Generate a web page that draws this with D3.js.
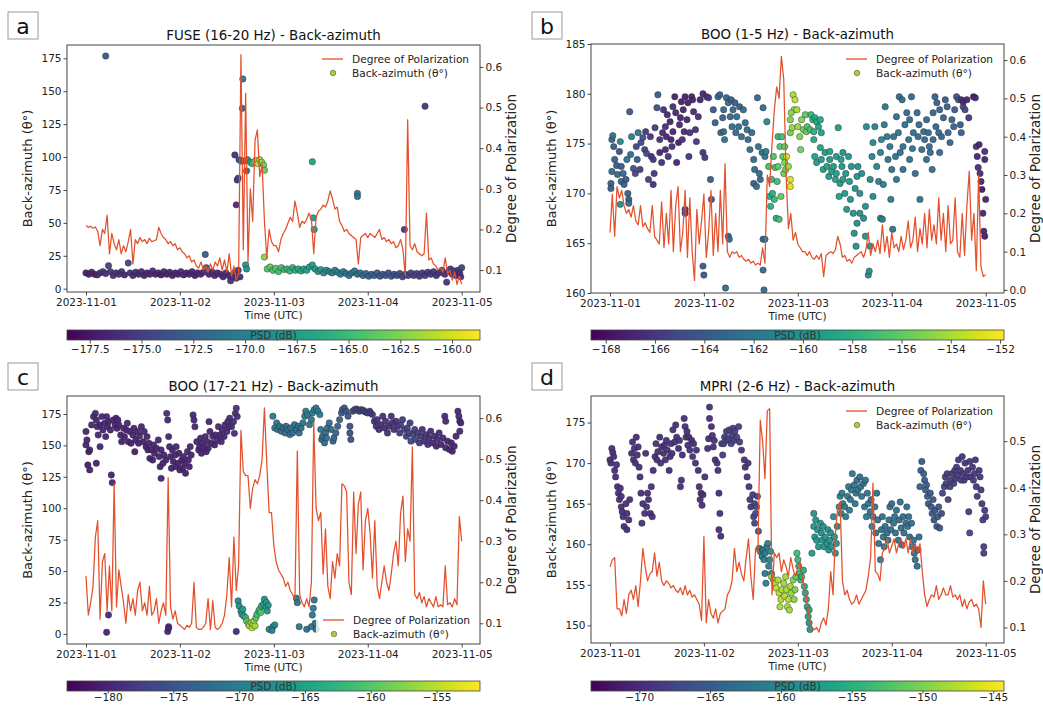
<!DOCTYPE html>
<html><head><meta charset="utf-8">
<script src="https://cdn.jsdelivr.net/npm/d3@7/dist/d3.min.js"></script>
<style>
body{margin:0;background:#fff;}
svg{display:block;font-family:"DejaVu Sans",sans-serif;}
</style></head><body>
<svg id="chart" width="1043" height="705"></svg>
<script>
// ---------------- DATA ----------------
const xTickLabels = ["2023-11-01","2023-11-02","2023-11-03","2023-11-04","2023-11-05"];
const dopStep = 0.025; // days between Degree-of-Polarization samples (starting 2023-11-01 00:00)

const titles = ["FUSE (16-20 Hz) - Back-azimuth","BOO (1-5 Hz) - Back-azimuth","BOO (17-21 Hz) - Back-azimuth","MPRI (2-6 Hz) - Back-azimuth"];
const letters = ["a","b","c","d"];

const bazTicksA = [0,25,50,75,100,125,150,175];
const bazTicksB = [160,165,170,175,180,185];
const bazTicksC = [0,25,50,75,100,125,150,175];
const bazTicksD = [150,155,160,165,170,175];
const dopTicksA = [0.1,0.2,0.3,0.4,0.5,0.6];
const dopTicksB = [0.0,0.1,0.2,0.3,0.4,0.5,0.6];
const dopTicksC = [0.1,0.2,0.3,0.4,0.5,0.6];
const dopTicksD = [0.1,0.2,0.3,0.4,0.5];
const psdTicksA = [-177.5,-175,-172.5,-170,-167.5,-165,-162.5,-160];
const psdTicksB = [-168,-166,-164,-162,-160,-158,-156,-154,-152];
const psdTicksC = [-180,-175,-170,-165,-160,-155];
const psdTicksD = [-170,-165,-160,-155,-150,-145];

// Degree of polarization (one value every dopStep days)
const dopA = [0.21,0.205,0.208,0.203,0.206,0.195,0.16,0.2,0.19,0.235,
0.14,0.19,0.165,0.15,0.175,0.14,0.16,0.145,0.17,0.2,
0.115,0.175,0.165,0.18,0.17,0.175,0.165,0.178,0.17,0.172,
0.175,0.205,0.19,0.18,0.175,0.165,0.17,0.16,0.165,0.15,
0.155,0.145,0.14,0.13,0.135,0.12,0.125,0.11,0.105,0.12,
0.1,0.11,0.095,0.115,0.1,0.12,0.11,0.13,0.1,0.125,
0.095,0.14,0.085,0.11,0.075,0.09,0.63,0.15,0.535,0.12,
0.3,0.22,0.42,0.445,0.33,0.36,0.22,0.13,0.2,0.17,
0.16,0.16,0.145,0.175,0.19,0.2,0.215,0.23,0.22,0.27,
0.24,0.205,0.22,0.215,0.225,0.24,0.225,0.14,0.23,0.245,
0.25,0.26,0.255,0.27,0.295,0.275,0.25,0.255,0.22,0.21,
0.195,0.2,0.19,0.185,0.18,0.175,0.115,0.18,0.185,0.19,
0.18,0.19,0.185,0.18,0.19,0.2,0.175,0.18,0.17,0.175,
0.165,0.17,0.155,0.16,0.175,0.15,0.085,0.47,0.16,0.15,
0.165,0.145,0.14,0.135,0.14,0.24,0.125,0.13,0.115,0.11,
0.1,0.105,0.095,0.13,0.09,0.1,0.075,0.095,0.065,0.085,0.065];

const dopB = [0.15,0.25,0.14,0.27,0.24,0.26,0.22,0.2,0.21,0.19,
0.22,0.18,0.17,0.22,0.165,0.175,0.16,0.15,0.22,0.14,
0.13,0.12,0.23,0.11,0.2,0.12,0.26,0.1,0.22,0.27,
0.1,0.15,0.26,0.085,0.24,0.1,0.025,0.21,0.12,0.18,
0.25,0.085,0.15,0.26,0.09,0.2,0.1,0.26,0.12,0.33,
0.1,0.085,0.1,0.095,0.1,0.085,0.09,0.08,0.075,0.08,
0.07,0.075,0.065,0.07,0.065,0.11,0.07,0.3,0.27,0.38,
0.47,0.53,0.5,0.61,0.55,0.3,0.16,0.2,0.13,0.15,
0.12,0.11,0.1,0.1,0.09,0.1,0.085,0.08,0.09,0.08,
0.095,0.035,0.09,0.095,0.1,0.095,0.105,0.14,0.12,0.085,
0.09,0.075,0.08,0.07,0.085,0.09,0.095,0.1,0.085,0.105,
0.15,0.09,0.12,0.1,0.13,0.095,0.17,0.1,0.14,0.085,
0.15,0.11,0.12,0.1,0.14,0.105,0.13,0.18,0.11,0.13,
0.19,0.1,0.16,0.12,0.2,0.11,0.21,0.13,0.17,0.12,
0.24,0.13,0.2,0.1,0.22,0.12,0.13,0.24,0.1,0.085,
0.2,0.09,0.22,0.31,0.13,0.2,0.05,0.3,0.06,0.035,0.04];

const dopC = [0.215,0.12,0.15,0.19,0.31,0.35,0.11,0.25,0.27,0.13,
0.24,0.13,0.44,0.14,0.23,0.19,0.15,0.1,0.17,0.13,
0.16,0.12,0.18,0.2,0.13,0.15,0.12,0.19,0.12,0.13,
0.16,0.1,0.13,0.15,0.12,0.455,0.14,0.11,0.13,0.1,
0.095,0.09,0.085,0.095,0.09,0.1,0.2,0.09,0.085,0.085,
0.09,0.1,0.16,0.085,0.155,0.09,0.085,0.09,0.1,0.12,
0.17,0.26,0.14,0.31,0.18,0.24,0.57,0.47,0.46,0.46,
0.38,0.43,0.45,0.44,0.46,0.5,0.625,0.49,0.37,0.37,
0.29,0.25,0.23,0.22,0.21,0.19,0.2,0.18,0.17,0.16,
0.52,0.17,0.15,0.14,0.16,0.14,0.2,0.59,0.38,0.35,
0.37,0.22,0.33,0.19,0.16,0.25,0.21,0.27,0.24,0.44,
0.435,0.42,0.2,0.17,0.42,0.27,0.39,0.42,0.23,0.35,
0.38,0.32,0.21,0.35,0.19,0.16,0.2,0.24,0.2,0.18,
0.22,0.27,0.3,0.24,0.37,0.41,0.25,0.33,0.3,0.53,
0.17,0.16,0.175,0.15,0.165,0.14,0.16,0.15,0.14,0.165,
0.14,0.145,0.14,0.24,0.145,0.15,0.14,0.16,0.145,0.36,0.3];

const dopD = [0.23,0.245,0.25,0.14,0.14,0.125,0.16,0.13,0.17,0.18,
0.16,0.19,0.145,0.2,0.27,0.23,0.2,0.215,0.22,0.26,
0.21,0.24,0.2,0.19,0.2,0.195,0.185,0.19,0.18,0.175,
0.185,0.17,0.19,0.17,0.18,0.165,0.17,0.16,0.15,0.115,
0.295,0.11,0.16,0.13,0.12,0.14,0.11,0.13,0.135,0.14,
0.17,0.18,0.2,0.27,0.22,0.24,0.215,0.2,0.25,0.29,
0.21,0.16,0.27,0.26,0.545,0.5,0.42,0.565,0.57,0.17,
0.26,0.25,0.26,0.22,0.245,0.23,0.21,0.25,0.225,0.21,
0.23,0.24,0.2,0.19,0.15,0.12,0.1,0.095,0.1,0.09,
0.11,0.12,0.105,0.14,0.22,0.17,0.3,0.36,0.37,0.2,
0.17,0.18,0.16,0.15,0.155,0.17,0.15,0.16,0.17,0.18,
0.21,0.25,0.41,0.22,0.215,0.2,0.26,0.27,0.29,0.26,
0.275,0.29,0.26,0.28,0.29,0.27,0.29,0.26,0.29,0.26,
0.28,0.26,0.28,0.22,0.17,0.145,0.16,0.17,0.165,0.19,
0.16,0.17,0.185,0.17,0.17,0.19,0.165,0.17,0.16,0.17,
0.145,0.16,0.14,0.155,0.16,0.145,0.15,0.14,0.1,0.2,0.15];

// Back-azimuth points: [time (days after 2023-11-01), back-azimuth (deg), PSD (dB)]
const bazA = [[0.00,12,-177.2],[0.03,11,-177],[0.06,12.5,-176.8],[0.09,11,-177],[0.12,10.5,-176.5],[0.15,12,-176],[0.18,13,-175.5],[0.21,11.5,-175.8],[0.24,17.5,-174.8],[0.26,13,-175.5],[0.29,10,-176],[0.32,12,-175.5],[0.35,11,-176],[0.38,13,-176.2],[0.41,10.5,-176.5],[0.45,19.5,-174.5],[0.47,12,-176],[0.50,10,-176.4],[0.53,12.5,-176.2],[0.56,11,-176.6],[0.59,13,-176.3],[0.62,10,-176.8],[0.65,12,-176.5],[0.68,11,-176.7],[0.71,13.5,-176.2],[0.74,11,-176.8],[0.77,12,-176.5],[0.80,10.5,-176.9],[0.83,13,-176.4],[0.86,11,-176.8],[0.89,12.5,-176.5],[0.92,10,-177],[0.95,12,-176.6],[0.98,11,-176.8],[1.01,13,-176.3],[1.04,10.5,-176.7],[1.07,12,-176.4],[1.10,11,-176.8],[1.13,13,-176.5],[1.16,10,-177],[1.19,12,-176.6],[1.22,11,-176.4],[1.25,12.5,-176.2],[1.27,26,-173],[1.28,16,-173.5],[1.31,11,-176.5],[1.34,13,-176.2],[1.37,10,-176.6],[1.40,12,-176.4],[1.43,11,-176.3],[1.46,9,-176.5],[1.49,12,-176.2],[1.52,10,-176.4],[1.54,6,-176],[1.56,9,-175.8],[1.58,12,-175.5],[1.60,8,-176],[1.62,14,-175.5],[1.64,9,-176],
[0.21,176.7,-173.2],[1.585,101.6,-176],[1.60,63.7,-176.3],[1.61,82.6,-175.5],[1.62,84,-175],[1.63,98,-174],[1.65,97,-172],[1.67,159.3,-171],[1.665,137,-172],[1.71,89.5,-172.5],[1.70,18,-168],[1.71,15,-168.5],[1.68,97,-170],[1.72,98,-169],[1.75,96,-167],[1.77,95,-165],[1.79,96.5,-163],[1.81,97.5,-162],[1.83,95,-161],[1.85,98,-161.5],[1.87,96,-162],[1.89,94,-163],[1.90,90,-163.5],[1.90,24,-162.5],[2.41,96.4,-167],[2.42,53.8,-167.5],[2.43,45,-167],[2.89,72.4,-171],[2.89,70,-171.3],[3.39,45,-175.5],[3.61,138.6,-175.5],
[1.93,15,-164],[1.96,16.5,-163.5],[1.99,14,-164.5],[2.02,15.5,-164],[2.05,13,-165],[2.08,16,-164.5],[2.11,14.5,-165],[2.14,15,-165.5],[2.17,13.5,-165.5],[2.20,16,-166],[2.23,14,-166],[2.26,15,-166.3],[2.29,13.5,-166.5],[2.32,15,-166.8],[2.35,14,-167],[2.38,16.5,-167],[2.41,18,-167.5],[2.44,15,-168],[2.47,13,-168.3],[2.50,14.5,-168.5],[2.53,12,-169],[2.56,14,-169.2],[2.59,13,-169.5],[2.62,12,-169.8],[2.65,14,-170],[2.68,12.5,-170.2],[2.71,11,-170.5],[2.74,13,-170.6],[2.77,11.5,-171],[2.80,10,-171.2],[2.83,12,-171.3],[2.86,13.5,-171],[2.89,11,-171.5],[2.92,12,-171.6],[2.95,10,-171.8],[2.98,11.5,-172],[3.01,9.5,-172.2],[3.04,11,-172.5],[3.07,10,-172.6],[3.10,12,-172.8],[3.13,9.5,-173],[3.16,11,-173.2],[3.19,10,-173.4],[3.22,12,-173.5],[3.25,9.5,-173.6],[3.28,11,-173.8],[3.31,10,-174],[3.34,11.5,-174.2],[3.37,9,-174.3],[3.40,11,-174.5],[3.43,10,-174.6],[3.46,12,-174.7],[3.49,10,-174.8],[3.52,11.5,-175],[3.55,9.5,-175.2],[3.58,12,-175.3],[3.61,10,-175.4],[3.64,12.5,-175.5],[3.67,11,-175.6],[3.70,13,-175.5],[3.73,10,-175.8],[3.76,12,-175.6],[3.79,14,-175],[3.82,11,-176],[3.84,5,-175.5],[3.86,13,-176.2],[3.88,15,-175.4],[3.90,11,-176],[3.92,13.5,-175],[3.94,10,-176.3],[3.96,14,-175.5],[3.98,12,-176],[4.0,16,-174.8],[3.99,9,-176.2]];

const bazB = [[0.01,171.0,-163.5],[0.02,172.2,-163],[0.01,170.5,-164],[0.02,175.4,-163.5],[0.03,175.8,-162.5],[0.04,174.7,-164],[0.05,173.4,-163.5],[0.07,172.8,-164],[0.08,171.9,-163],[0.1,174.2,-164.5],[0.11,175.2,-161],[0.11,168.9,-160.5],[0.12,171.2,-163.5],[0.12,172.7,-164],[0.14,172.0,-163],[0.15,170.9,-163.5],[0.17,171.4,-164],[0.18,173.4,-162],[0.19,170.0,-163.5],[0.2,169.4,-164],[0.2,169.0,-163],[0.21,178.2,-164],[0.22,173.9,-162.5],[0.23,175.7,-161.5],[0.25,172.5,-164.5],[0.27,172.0,-165],[0.28,174.7,-165],[0.29,173.4,-164],[0.3,176.1,-162],[0.32,172.4,-165.5],[0.33,175.1,-165],[0.35,175.6,-164.5],[0.37,174.4,-165.5],[0.38,176.2,-166],[0.39,174.0,-165],[0.41,171.4,-165.5],[0.43,175.7,-166],
[0.44,173.7,-166.5],[0.46,173.4,-166],[0.46,170.9,-166.5],[0.47,172.0,-166],[0.48,176.6,-165.5],[0.5,178.6,-164.5],[0.51,179.9,-164],[0.53,175.4,-166.5],[0.53,174.1,-167],[0.55,173.1,-166.5],[0.56,176.1,-166.8],[0.57,178.4,-166.5],[0.59,174.4,-167],[0.59,176.7,-166.5],[0.6,175.7,-167],[0.61,177.9,-166.8],[0.62,173.7,-166],[0.64,177.2,-167],[0.65,175.4,-167.2],[0.66,174.7,-166.5],[0.67,176.2,-167],[0.67,178.7,-166.5],[0.69,179.7,-167],[0.7,178.1,-166.8],[0.71,173.1,-167],[0.73,175.1,-167.2],[0.74,176.9,-166.8],[0.75,177.6,-167],[0.76,179.2,-167.2],[0.77,175.4,-166.5],[0.78,178.4,-167],[0.79,176.2,-166.8],[0.8,179.7,-167.3],[0.8,168.4,-166.5],[0.8,168.0,-166],[0.82,177.4,-167],[0.83,179.1,-167.2],[0.84,173.7,-166],[0.85,176.1,-166.5],[0.87,179.7,-167],[0.88,179.4,-167.2],[0.89,178.2,-166.8],[0.91,176.4,-166.5],[0.92,175.2,-166],[0.94,177.7,-166.5],[0.96,179.4,-167],[0.99,180.0,-167],[0.99,174.1,-166],[0.99,162.7,-164],[1.0,161.8,-164],
[1.01,173.6,-166],[1.03,179.7,-166.5],[1.05,179.6,-166],[1.07,171.4,-164],[1.08,169.4,-163.5],[1.1,178.4,-164],[1.12,177.1,-163.5],[1.15,179.7,-163],[1.17,179.9,-163.5],[1.18,176.1,-163],[1.2,177.6,-163.5],[1.21,178.4,-163],[1.21,176.2,-163],[1.22,175.4,-162.5],[1.23,160.5,-163],[1.24,179.6,-163.5],[1.26,179.1,-163],[1.26,165.7,-163.5],[1.27,165.4,-163],[1.28,177.7,-163],[1.29,179.4,-163.5],[1.3,176.7,-162.5],[1.31,178.4,-163],[1.33,179.1,-163.5],[1.34,176.1,-163],[1.35,177.7,-162.8],[1.37,176.7,-163],[1.38,178.7,-163.5],[1.4,175.7,-163],[1.42,178.4,-162.5],[1.44,177.1,-163],[1.46,176.4,-162.8],[1.47,175.4,-163],[1.49,174.4,-162.5],[1.51,176.1,-163],[1.53,173.4,-163],[1.53,171.0,-163.5],[1.54,172.4,-162.8],[1.56,170.7,-163],[1.57,179.6,-163],[1.58,174.7,-162.5],[1.59,172.0,-163],[1.6,171.4,-163.2],[1.62,174.1,-162.5],[1.63,178.6,-162.8],[1.63,165.4,-162.5],[1.63,162.3,-163],[1.64,160.3,-163],[1.65,173.7,-162],[1.65,165.4,-162.5],[1.66,174.2,-161.5],[1.67,177.2,-161],
[1.69,172.7,-157],[1.7,169.7,-158.5],[1.71,168.7,-158],[1.72,171.4,-157.5],[1.73,170.0,-158],[1.74,173.7,-156.5],[1.75,169.4,-157.5],[1.76,172.6,-157],[1.77,167.5,-158],[1.78,171.2,-157],[1.79,172.7,-156],[1.79,175.7,-157.5],[1.8,167.4,-157],[1.81,174.7,-156.5],[1.82,169.7,-156],[1.83,175.7,-157],[1.84,173.7,-156],[1.85,172.0,-155.5],[1.86,174.7,-156],[1.86,173.1,-155],[1.87,172.4,-155.5],[1.88,173.7,-153],[1.9,172.7,-154.5],[1.92,171.4,-152.8],[1.92,170.7,-152.5],
[1.95,179.9,-154],[1.97,179.4,-153.5],[1.96,178.4,-154.5],[1.93,178.1,-154.8],[1.92,177.4,-155],[1.92,176.1,-155.5],[1.94,176.6,-154.5],[1.99,178.4,-154],[2.0,176.7,-154.5],[2.02,175.7,-155],[2.03,174.4,-155.5],[2.04,177.4,-155],[2.06,176.4,-155.5],[2.08,177.9,-156],[2.09,176.2,-156],[2.1,176.7,-156.5],[2.13,176.4,-157],[2.14,177.9,-157.5],[2.16,177.4,-158],[2.17,176.2,-158],[2.18,177.6,-158.5],[2.2,177.2,-158.5],[2.22,176.7,-159],[2.24,177.4,-158.5],[2.25,176.1,-159],
[2.17,175.4,-158.5],[2.18,173.7,-159],[2.2,173.1,-159.5],[2.24,174.6,-159],[2.25,173.4,-159.5],[2.27,172.4,-159],[2.29,174.1,-159.5],[2.31,172.7,-159],[2.33,171.7,-159.5],[2.34,174.2,-159],[2.34,173.4,-159.5],[2.36,172.2,-159],[2.38,172.7,-159.5],[2.4,171.4,-159],[2.41,173.7,-159.5],[2.41,172.0,-159],[2.43,176.6,-159.5],[2.44,169.7,-159],[2.45,171.0,-159.5],[2.46,173.4,-159.3],[2.47,172.7,-159.8],[2.48,171.4,-159.5],[2.48,174.1,-160],[2.5,170.0,-159.5],[2.51,172.0,-159.8],[2.52,168.4,-159.5],[2.54,173.7,-160],[2.55,171.2,-159.8],[2.56,169.4,-160],[2.57,172.7,-160.2],[2.59,168.0,-159.8],[2.6,166.0,-160],[2.61,170.5,-160.2],[2.62,164.7,-160],[2.63,167.0,-160.3],[2.63,171.7,-160],[2.64,172.7,-160.5],[2.66,168.0,-160.3],[2.66,170.0,-160.5],[2.68,172.0,-160.3],[2.7,167.5,-160.5],[2.72,168.7,-160.5],[2.72,165.7,-160.2],[2.73,176.7,-160.8],[2.75,161.8,-160.5],[2.76,162.2,-160.3],[2.77,171.4,-160.8],[2.77,164.7,-160.5],[2.79,173.7,-161],[2.8,175.1,-161],[2.8,169.7,-160.8],[2.82,176.7,-161.2],[2.84,172.7,-161],[2.86,171.2,-161.2],[2.88,167.5,-161],[2.88,174.1,-161.5],[2.89,175.4,-161.3],[2.9,167.4,-161.5],[2.91,170.9,-161.5],[2.92,176.9,-161.8],
[2.93,178.7,-162],[2.95,175.7,-161.8],[2.96,173.4,-162],[2.98,174.7,-162],[2.99,169.4,-161.8],[3.0,172.4,-162.2],[3.01,166.4,-162],[3.02,175.7,-162.3],[3.04,173.7,-162.2],[3.05,171.4,-162],[3.05,177.7,-162.5],[3.07,176.1,-162.3],[3.08,179.7,-162.8],[3.09,174.1,-162.3],[3.11,179.4,-162.8],[3.12,174.7,-162.5],[3.12,172.4,-162.3],[3.14,176.9,-162.6],[3.16,178.1,-162.8],[3.18,175.4,-162.5],[3.19,173.4,-162.4],[3.19,177.4,-162.8],[3.21,179.7,-163],[3.22,174.5,-162.6],[3.23,176.1,-162.8],[3.25,172.0,-162.5],[3.27,178.1,-163],[3.28,175.7,-162.8],[3.29,176.9,-163],[3.3,169.4,-162.5],[3.32,174.4,-162.8],[3.34,176.2,-163],[3.35,175.4,-163],[3.37,173.4,-162.8],[3.37,177.4,-163.2],[3.39,176.1,-163],[3.4,174.7,-163],[3.41,174.1,-162.8],[3.43,172.4,-162.8],[3.44,175.4,-163],[3.44,178.1,-163.3],[3.46,179.7,-163.5],[3.47,176.7,-163.2],[3.48,179.1,-163.5],[3.5,176.1,-163.2],[3.51,174.1,-163],[3.51,178.4,-163.4],[3.53,175.7,-163.2],[3.55,177.6,-163.4],[3.57,179.4,-163.8],[3.59,178.7,-163.6],[3.6,176.1,-163.3],[3.62,175.1,-163.2],[3.64,177.4,-163.5],[3.66,176.7,-163.5],[3.67,178.4,-163.8],[3.69,179.7,-164],[3.71,179.4,-164],[3.73,176.9,-163.6],[3.74,176.1,-163.8],[3.76,178.7,-164.5],[3.78,178.4,-165],
[3.74,179.4,-166.5],[3.76,179.2,-167],[3.8,179.4,-167],[3.82,177.6,-166],[3.87,179.7,-167.5],[3.89,179.6,-167],[3.9,174.7,-166.5],[3.91,173.7,-167],[3.92,172.6,-166.5],[3.93,174.9,-167],[3.94,172.0,-166.8],[3.95,171.2,-167],[3.96,170.4,-167.5],[3.97,168.0,-166.8],[3.98,166.2,-167],[3.99,165.7,-167.2],[3.99,173.4,-167],[4.0,169.4,-167],[3.99,174.2,-166.5]];

const bazC = [[0.0,161,-180],[0.0,150.4,-180.3],[0.01,154.3,-180],[0.03,145,-180.5],[0.04,146.4,-180.2],[0.02,134.4,-180.4],[0.04,130.5,-180.2],[0.06,166.3,-179.8],[0.08,172.9,-180],[0.1,175.5,-179.7],[0.11,170.2,-180.1],[0.12,164.9,-180],[0.11,135.8,-180.3],[0.13,158.3,-179.9],[0.15,166.3,-180.2],[0.15,149,-180],[0.17,172.9,-179.8],[0.18,162.3,-180.1],[0.2,167.6,-180],[0.21,157,-180.2],[0.22,172.9,-179.9],[0.23,164.9,-180],[0.24,168.9,-180.3],[0.26,162.3,-180],[0.27,126.5,-180.2],[0.28,120.4,-180],[0.29,170.2,-179.8],[0.31,166.3,-180.1],[0.32,171.6,-180],[0.33,163.6,-180.2],[0.34,170.2,-179.9],[0.35,166.3,-180],[0.37,158.3,-180.2],[0.38,153,-180.4],[0.4,163.6,-180],[0.41,157,-180.2],[0.43,162.3,-179.9],[0.44,167.6,-180],[0.45,153,-180.3],[0.47,161,-180],[0.48,151.7,-180.2],[0.5,158.3,-180],[0.51,163.6,-179.8],[0.52,145,-180.4],[0.53,154.3,-180.1],[0.55,161,-180],[0.56,151.7,-180.2],[0.57,157.5,-180],[0.59,164.9,-179.8],[0.61,153,-180.1],[0.62,161,-180],[0.64,149,-180.3],[0.65,157,-180],[0.66,146.4,-180.2],[0.67,151.7,-180],[0.68,139.7,-180.4],[0.7,146.4,-180.1],[0.71,138.4,-180.3],[0.72,150.4,-180],[0.73,143.7,-180.2],[0.75,147.7,-180],[0.77,154.3,-179.8],[0.78,141.1,-180.2],[0.79,133.1,-180.4],[0.8,123.8,-180.3],[0.8,146.4,-180],[0.82,135.8,-180.2],[0.83,142.4,-180],[0.85,138.4,-180.1],[0.86,175.5,-179.6],[0.87,170.2,-179.8],[0.88,157,-180],[0.89,149,-180.1],[0.9,141.1,-180.2],[0.91,131.8,-180.4],[0.92,146.4,-180],[0.93,137.1,-180.2],[0.95,142.4,-180],[0.96,133.1,-180.3],[0.96,149,-180],[0.98,135.8,-180.2],[0.99,143.7,-180],[1.0,130.5,-180.3],[1.02,138.4,-180.1],[1.03,131.8,-180.3],[1.04,141.1,-180],[1.05,135.8,-180.2],[1.06,127.8,-180.4],[1.08,145,-180],[1.09,138.4,-180.2],[1.1,133.1,-180.3],[1.11,149,-180],[1.12,142.4,-180.1],[1.14,174.2,-179.6],[1.15,170.2,-179.8],[1.16,164.9,-179.9],[1.18,153,-180],[1.2,146.4,-180.2],[1.21,149,-180],[1.22,155.7,-179.9],[1.23,143.7,-180.2],[1.24,151.7,-180],[1.26,147.7,-180.1],[1.27,157,-179.8],[1.28,145,-180.2],[1.29,153,-180],[1.3,147.7,-180],[1.31,168.9,-179.7],[1.32,161,-179.8],[1.34,151.7,-180],[1.35,157,-179.8],[1.37,150.4,-180],[1.38,158.3,-179.7],[1.4,154.3,-179.8],[1.41,164.9,-179.6],[1.43,158.3,-179.7],[1.44,153,-179.9],[1.45,162.3,-179.6],[1.47,157,-179.7],[1.48,166.3,-179.5],[1.5,161,-179.6],[1.51,168.9,-179.4],[1.52,164.9,-179.5],[1.53,171.6,-179.3],[1.55,164.9,-179.4],[1.57,168.9,-179.3],[1.58,159.6,-179.4],[1.59,175.5,-179],[1.6,179.5,-178.8],[1.61,172.9,-179],
[0.22,1.3,-180],[0.24,15.1,-179.5],[0.87,1.9,-179.8],[0.88,5.8,-179.6],[0.88,4.5,-179.8],[1.6,1.9,-179.5],
[1.62,26.3,-168.5],[1.63,22.3,-168],[1.65,18.3,-167],[1.66,15.6,-166],[1.68,14.3,-164.5],[1.67,19.6,-165.5],[1.7,13,-162.5],[1.71,10.3,-160],[1.73,7.7,-157],[1.74,6.4,-155.5],[1.76,9,-156],[1.77,5,-154.5],[1.78,7.7,-155],[1.79,10.3,-157],[1.8,6.4,-156],[1.81,13,-159.5],[1.82,15.6,-161],[1.84,18.3,-162],[1.85,19.6,-161.5],[1.86,17,-160.5],[1.87,22.3,-163.5],[1.89,23.6,-166],[1.9,27.6,-167],[1.92,25,-165.5],[1.92,21,-164],[1.94,22.9,-167],[1.93,18.3,-166],
[1.95,3.7,-168.5],[1.99,5.8,-169],[2.01,7.2,-168.8],[1.98,2.7,-169.5],[2.24,28.4,-171],[2.25,24.9,-171.5],[2.27,5.8,-171],[2.35,3.7,-172],[2.4,5.8,-171.5],[2.41,15.1,-170.5],[2.42,20.4,-170],[2.43,27,-170.5],[2.44,8.5,-171],[2.45,3.7,-171.5],
[1.99,173.2,-170.5],[2.03,167.9,-171],[2.01,163.9,-171.5],[2.04,162.6,-171.5],[2.06,165.2,-171.8],[2.08,161.3,-172],[2.1,163.9,-171.5],[2.12,159.9,-172],[2.13,165.2,-171.5],[2.15,162.6,-172],[2.17,158.6,-172.3],[2.18,163.9,-171.8],[2.2,159.9,-172],[2.22,166.5,-171.5],[2.24,162.6,-172],[2.26,165.2,-171.5],[2.27,159.9,-172],[2.29,163.9,-171.5],[2.31,167.9,-171],[2.33,173.2,-170.5],[2.34,177.2,-170],[2.36,174.5,-170.3],[2.38,166.5,-171],[2.4,170.5,-170.5],[2.41,175.8,-170],[2.43,178.5,-169.8],[2.45,179.8,-169.8],[2.47,177.2,-170],[2.49,174.5,-170.5],[2.5,162.6,-171.5],[2.51,154.7,-172],[2.52,157.3,-172],[2.54,152,-172.5],[2.55,159.9,-172],[2.56,155.9,-172.3],[2.57,163.9,-172],[2.59,167.9,-172],[2.61,162.6,-172.5],[2.63,153.4,-173],[2.64,155.9,-173],[2.66,159.9,-173],[2.68,165.2,-173.5],[2.7,170.5,-174],[2.72,175.8,-174],[2.73,178.5,-174.5],[2.75,179.8,-174.5],[2.77,177.2,-175],[2.79,173.2,-175],[2.81,165.2,-175.5],[2.81,159.9,-175.5],[2.82,154.7,-175.5],[2.84,177.2,-175.5],[2.86,178.5,-176],[2.88,179,-176],[2.89,178,-176.3],[2.91,177.2,-176.5],[2.93,178.5,-176.5],[2.95,178,-176.8],[2.96,177.2,-177],[2.98,176.4,-177.2],[3.0,175.8,-177.5],[3.02,177.2,-177.5],[3.03,175.8,-177.8],[3.05,174.5,-178],
[3.07,169.2,-178.8],[3.09,165.2,-179],[3.1,170.5,-178.8],[3.12,162.6,-179.2],[3.14,166.5,-179],[3.16,173.2,-178.8],[3.18,163.9,-179.2],[3.19,169.2,-179],[3.21,159.9,-179.3],[3.23,165.2,-179],[3.25,173.2,-178.7],[3.26,167.9,-179],[3.28,162.6,-179.2],[3.3,169.2,-178.9],[3.32,165.2,-179],[3.34,159.9,-178],[3.35,166.5,-177.5],[3.37,170.5,-177.8],[3.39,162.6,-177],[3.41,157.3,-177.5],[3.42,163.9,-177.2],[3.44,159.9,-177],[3.45,167.9,-178],[3.46,153.4,-176.8],[3.48,158.6,-177],[3.5,162.6,-177.5],[3.51,154.7,-177],[3.53,159.9,-177.8],[3.55,152,-178],[3.57,157.3,-178.5],[3.58,162.6,-179],[3.6,153.4,-178.8],[3.62,158.6,-179],[3.64,150.7,-179.2],[3.65,155.9,-179.3],[3.67,161.3,-179.5],[3.69,152,-179.5],[3.71,157.3,-179.6],[3.73,149.4,-179.8],[3.74,154.7,-179.6],[3.76,159.9,-179.5],[3.78,150.7,-179.8],[3.8,155.9,-179.7],[3.82,173.2,-179.5],[3.83,169.2,-179.6],[3.83,148.1,-180],[3.85,153.4,-179.8],[3.87,146.7,-180],[3.89,152,-179.9],[3.9,145.4,-180.1],[3.92,149.4,-180],[3.94,157.3,-179.8],[3.96,177.2,-179.5],[3.97,173.2,-179.6],[3.98,169.2,-179.7],[3.98,161.3,-179.9],[3.99,167.9,-179.8]];

const bazD = [[0,170.4,-169.5],[0.01,170,-169.8],[0.02,171.8,-169.5],[0.03,171.3,-169.7],[0.04,170.8,-169.5],[0.05,169.1,-169.8],[0.06,168.3,-169.6],[0.07,169.8,-169.5],[0.08,167.1,-169.8],[0.09,166.3,-169.6],[0.1,165.5,-169.8],[0.11,166.9,-169.5],[0.12,164.6,-169.7],[0.12,165.9,-169.5],[0.13,164,-169.8],[0.14,163.4,-169.6],[0.15,162.2,-169.8],[0.17,165,-169.5],[0.18,163.8,-169.7],[0.18,161.8,-169.8],[0.2,163,-169.6],[0.21,165.5,-169.5],[0.23,171.2,-169.8],[0.24,172.6,-169.6],[0.25,170.4,-169.8],[0.26,171.8,-169.5],[0.27,170,-169.7],[0.28,173.2,-169.6],[0.29,171,-169.8],[0.3,172,-169.5],[0.31,169.5,-169.7],[0.32,168.3,-169.6],[0.33,166.3,-169.8],[0.34,162.6,-169.5],[0.35,165,-169.7],[0.37,163.8,-169.6],[0.38,171.2,-169.8],[0.39,164.6,-169.5],[0.4,166.3,-169.7],[0.41,165.5,-169.6],[0.43,163.8,-169.8],[0.44,167.1,-169.5],[0.45,163.4,-169.7],[0.46,169.1,-169.6],[0.48,170.8,-169.8],[0.49,172.4,-169.5],[0.5,170.4,-169.7],[0.51,171.4,-169.6],[0.53,173.2,-169.8],[0.54,170,-169.5],[0.55,172,-169.7],[0.57,171.2,-169.6],[0.58,172.2,-169.8],[0.59,170.4,-169.5],[0.6,172.8,-169.7],[0.61,171.6,-169.6],[0.63,169.1,-169.8],[0.64,170.8,-169.5],[0.65,172.4,-169.7],[0.66,171.2,-169.6],[0.67,174.1,-169.8],[0.69,172.6,-169.5],[0.7,174.7,-169.7],[0.71,173.2,-169.6],[0.73,171.8,-169.8],[0.74,172.8,-169.5],[0.75,167.1,-169.7],[0.76,167.9,-169.6],[0.77,171,-169.8],[0.79,175.5,-169.5],[0.8,174.5,-169.7],[0.81,173.2,-169.6],[0.82,173.9,-169.8],[0.83,172.2,-169.5],[0.84,173.2,-169.7],[0.85,171.6,-169.6],[0.87,172.8,-169.8],[0.88,170.8,-169.5],[0.89,172.4,-169.7],[0.91,170,-169.6],[0.92,171.6,-169.8],[0.94,169.1,-169.5],[0.95,167.1,-169.7],[0.96,165.5,-169.6],[0.97,166.3,-169.8],[0.98,164.8,-169.5],[0.99,166.1,-169.7],[1.01,168.3,-169.6],[1.04,171.8,-169.8],[1.05,173,-169.5],[1.06,175.5,-169.7],[1.06,176.9,-169.6],[1.08,174.5,-169.8],[1.09,173.4,-169.5],[1.1,172,-169.7],[1.11,172.8,-169.6],[1.12,170.4,-169.8],[1.14,170,-169.5],[1.15,169.1,-169.7],[1.16,166.3,-169.6],[1.16,161.8,-169.8],[1.17,163.8,-169.5],[1.18,161,-169.7],[1.19,172.4,-168.5],[1.2,171,-168.3],[1.21,172.4,-168],[1.22,173.2,-168.2],[1.24,172.8,-167.8],[1.24,173.9,-168],[1.26,173,-167.8],[1.27,174.1,-168],[1.29,172.4,-167.7],[1.3,173.4,-168],[1.31,174.3,-167.8],[1.32,172.8,-168],[1.33,173.9,-167.7],[1.35,173.2,-168],[1.37,174.5,-167.8],[1.38,172.6,-168.5],[1.4,171.6,-169],[1.43,170.4,-169.3],[1.44,169.5,-169.5],[1.46,168.3,-169.3],[1.47,170,-169.5],[1.48,167.1,-169.2],[1.49,165.5,-169],[1.5,164.6,-168.8],[1.52,166.1,-168.5],[1.53,163.4,-168],[1.54,162.6,-167.5],[1.54,165,-168],[1.55,163.8,-167],[1.57,165.9,-167.5],[1.56,164.6,-167],[1.58,161.6,-165],
[1.59,159.5,-162],[1.6,159.1,-161.5],[1.62,158.5,-161],[1.63,159.3,-161.5],[1.64,158.1,-161],[1.65,158.9,-161.5],[1.67,159.7,-160.5],[1.68,160.1,-160],[1.69,157.3,-161],[1.7,158.1,-160.5],[1.71,159.1,-160],[1.72,156.4,-161],[1.65,156.4,-162],[1.66,155.2,-161.5],
[1.72,156,-149.5],[1.74,155.6,-148.5],[1.76,155.2,-148],[1.77,154.6,-147.5],[1.79,155.6,-148],[1.8,154,-147.5],[1.82,153.2,-147.8],[1.83,154.4,-148],[1.85,155.2,-148.5],[1.86,153.6,-147.5],[1.87,156,-148.5],[1.88,154.4,-148],[1.89,152.3,-148.2],[1.9,153.2,-147.8],[1.92,154.8,-148.5],[1.93,154,-149],[1.95,155.6,-150],[1.96,153.2,-149.5],[1.97,154.4,-150],[1.98,156,-151],[1.81,152.3,-148.2],[1.91,151.9,-148.5],
[1.99,158.9,-153.5],[2.0,158.1,-154],[2.01,157.3,-154.5],[2.02,156.4,-154],[2.03,155.6,-154.5],[2.04,156,-155],[2.06,156.8,-155],[2.07,154.8,-155.5],[2.08,154,-156],[2.09,153.2,-156],[2.1,152.3,-156.5],[2.11,151.1,-157],[2.12,150.3,-157.5],[2.13,149.5,-157.5],[2.12,151.9,-157],
[2.15,158.9,-157.5],[2.17,162.2,-158],[2.17,163.8,-158.2],[2.18,160.9,-157.8],[2.19,163,-158.3],[2.2,160.5,-158],[2.21,161.8,-158.2],[2.22,159.7,-158],[2.24,162.6,-158.5],[2.25,161.4,-158.2],[2.26,160.5,-158],[2.27,162.2,-158.5],[2.28,159.7,-158.2],[2.29,160.9,-158],[2.31,160.1,-158.3],[2.32,161.8,-158.5],[2.33,159.3,-158.2],[2.34,160.5,-158.5],[2.35,161.4,-158.8],[2.36,159.7,-158.5],[2.38,163.4,-159.5],[2.39,160.9,-159],[2.4,158.9,-158.8],[2.41,160.1,-159.2],[2.42,162.2,-159.5],[2.44,164.6,-160],[2.45,165.9,-160.5],[2.46,163.8,-160.3],[2.47,166.3,-160.8],[2.48,165,-161],
[2.5,164.6,-161.5],[2.51,163.4,-161.5],[2.53,165.9,-161.8],[2.54,167.1,-162],[2.55,164.2,-161.8],[2.56,165.5,-162],[2.57,166.7,-162.2],[2.58,168.7,-162],[2.6,167.3,-162.3],[2.61,165,-162],[2.62,166.3,-162.2],[2.63,167.9,-162.5],[2.64,166.7,-162.2],[2.66,168.3,-162.5],[2.67,167.1,-162.3],[2.68,165.9,-162.2],[2.7,167.5,-162.5],[2.71,164.6,-162.2],[2.72,167.9,-162.5],[2.73,163.4,-162],[2.74,166.3,-162.3],[2.75,165,-162.2],[2.77,164,-162.4],[2.78,165.5,-162.5],[2.79,162.2,-162.2],[2.8,163.4,-162.4],[2.82,164.6,-162.5],[2.83,161.4,-162.3],[2.84,166.3,-162.6],[2.85,163,-162.4],[2.86,160.1,-162.2],[2.88,158.1,-162],[2.89,161.8,-162.4],[2.9,163.4,-162.6],[2.91,160.9,-162.3],[2.92,159.7,-162.2],[2.93,162.2,-162.5],[2.95,161.4,-162.4],[2.96,160.5,-162.3],[2.97,163,-162.6],[2.98,164.6,-162.8],[2.99,161.8,-162.5],[3.0,165,-162.8],[3.02,162.6,-162.6],[3.03,163.4,-162.7],[3.04,161.4,-162.5],[3.05,164.2,-162.8],[3.07,160.5,-162.5],[3.08,163,-162.7],[3.09,165.2,-163],[3.1,162,-162.7],[3.11,159.9,-162.5],[3.12,163.4,-162.8],[3.13,161.4,-162.6],[3.15,162.6,-162.8],[3.16,164.6,-163],[3.17,162.2,-162.8],[3.18,163.4,-163],[3.19,160.9,-162.8],[3.21,162.6,-163],[3.22,159.7,-162.7],[3.23,160.5,-162.8],[3.24,158.9,-162.6],[3.25,158.1,-162.5],[3.27,157.3,-162.4],[3.28,159.3,-162.8],[3.29,160.9,-163],
[3.3,167.1,-164.5],[3.31,169.1,-165],[3.32,170.2,-165.2],[3.34,168.7,-165],[3.35,167.9,-165.2],[3.36,166.7,-165],[3.37,167.3,-165.3],[3.38,165.9,-165.2],[3.39,165,-165.5],[3.41,166.3,-165.3],[3.42,164.6,-165.5],[3.43,163.8,-165.6],[3.44,165.5,-165.8],[3.45,163,-165.6],[3.46,164.2,-166],[3.48,162.2,-165.8],[3.49,163.4,-166],[3.5,164.6,-166.3],[3.51,162,-166],
[3.53,163.8,-167],[3.54,166.3,-167.5],[3.56,167.1,-167.8],[3.57,168.3,-168],[3.58,167.5,-168],[3.59,168.7,-168.2],[3.6,165.5,-167.8],[3.62,167.1,-168.2],[3.63,167.9,-168.3],[3.64,168.7,-168.5],[3.66,167.5,-168.3],[3.67,169.1,-168.5],[3.68,168.1,-168.6],[3.69,169.5,-168.8],[3.7,168.5,-168.6],[3.71,170.4,-168.8],[3.73,169.1,-168.7],[3.74,167.9,-168.5],[3.75,170.8,-169],[3.76,168.7,-168.8],[3.77,167.9,-168.7],[3.78,170,-169],[3.8,168.3,-168.8],[3.81,169.1,-169],[3.82,164,-168],[3.83,161.4,-167.5],[3.83,170.2,-169],[3.84,168.3,-168.8],[3.86,169.5,-169],[3.87,167.9,-168.8],[3.88,168.7,-169],[3.89,170.4,-169.2],[3.9,167.1,-168.8],[3.91,165.9,-168.6],[3.93,169.1,-169],[3.94,168.3,-168.8],[3.95,166.7,-168.7],[3.96,165,-168.5],[3.97,163,-168.5],[3.98,159.7,-168.2],[3.98,158.9,-168.3],[3.99,164.2,-168.6],[4.0,163.4,-168.5]];

// ---------------- DRAWING ----------------
const svg = d3.select("#chart");
const DAY0 = Date.UTC(2023,10,1);
const toDate = t => new Date(DAY0 + t*864e5);
const FONT = "DejaVu Sans, sans-serif";
const LINE_COLOR = "#e4502b";
const fmtMinus = s => s.replace("-", "\u2212");

const panels = [
  {dop:dopA, baz:bazA, bt:bazTicksA, dt:dopTicksA, pt:psdTicksA, pfmt:d3.format(".1f"),
   l:67, r:480, t:45, b:292, yd:[-2.5,185.1], y2d:[0.046,0.654], cd:[-178.6,-158.65], cbT:330, cbTick:3.5, cbPad:2,
   letter:[8,12], leg:{x:322, y:59}},
  {dop:dopB, baz:bazB, bt:bazTicksB, dt:dopTicksB, pt:psdTicksB, pfmt:d3.format("d"),
   l:591, r:1004, t:44, b:293, yd:[160,185], y2d:[-0.008,0.642], cd:[-168.6,-151.84], cbT:330, cbTick:3.5, cbPad:2,
   letter:[532,12], leg:{x:846, y:59}},
  {dop:dopC, baz:bazC, bt:bazTicksC, dt:dopTicksC, pt:psdTicksC, pfmt:d3.format("d"),
   l:67, r:480, t:396, b:644, yd:[-8,189.3], y2d:[0.0495,0.654], cd:[-183.09,-151.7], cbT:681, cbTick:2.5, cbPad:0.5,
   letter:[8,363], leg:{x:323, y:620}},
  {dop:dopD, baz:bazD, bt:bazTicksD, dt:dopTicksD, pt:psdTicksD, pfmt:d3.format("d"),
   l:591, r:1004, t:396, b:643, yd:[147.83,178.27], y2d:[0.0666,0.597], cd:[-173.41,-144.24], cbT:681, cbTick:2.5, cbPad:0.5,
   letter:[532,363], leg:{x:846, y:411}}
];

const defs = svg.append("defs");
const grad = defs.append("linearGradient").attr("id","viridisGrad").attr("x1","0%").attr("x2","100%");
d3.range(0,1.0001,0.05).forEach(s => grad.append("stop").attr("offset", (s*100)+"%").attr("stop-color", d3.interpolateViridis(s)));

function styleAxis(g, fs){
  g.select(".domain").remove();
  g.selectAll(".tick line").attr("stroke","#333").attr("stroke-width",0.9);
  g.selectAll(".tick text").attr("fill","#222").style("font-size",(fs||10.5)+"px").style("font-family",FONT);
}

panels.forEach((p, k) => {
  const g = svg.append("g");
  const x = d3.scaleUtc().domain([toDate(-0.202), toDate(4.195)]).range([p.l, p.r]);
  const y = d3.scaleLinear().domain(p.yd).range([p.b, p.t]);
  const y2 = d3.scaleLinear().domain(p.y2d).range([p.b, p.t]);
  const col = d3.scaleSequential(d3.interpolateViridis).domain(p.cd);

  const cid = "clip"+k;
  defs.append("clipPath").attr("id",cid).append("rect")
    .attr("x",p.l).attr("y",p.t).attr("width",p.r-p.l).attr("height",p.b-p.t);

  // scatter
  g.append("g").attr("clip-path",`url(#${cid})`).selectAll("circle").data(p.baz).join("circle")
    .attr("cx", d => x(toDate(d[0]))).attr("cy", d => y(d[1])).attr("r",3.2)
    .attr("fill", d => col(d[2])).attr("stroke","#2e2e2e").attr("stroke-width",0.45).attr("fill-opacity",0.95);

  // DoP line
  const line = d3.line().x((d,i) => x(toDate(i*dopStep))).y(d => y2(d));
  g.append("path").attr("clip-path",`url(#${cid})`).datum(p.dop).attr("d",line)
    .attr("fill","none").attr("stroke",LINE_COLOR).attr("stroke-width",1.25).attr("stroke-linejoin","round");

  // frame
  g.append("rect").attr("x",p.l).attr("y",p.t).attr("width",p.r-p.l).attr("height",p.b-p.t)
    .attr("fill","none").attr("stroke","#444").attr("stroke-width",1);

  // axes
  const xAx = g.append("g").attr("transform",`translate(0,${p.b})`)
    .call(d3.axisBottom(x).tickValues(xTickLabels.map(s => new Date(s+"T00:00:00Z")))
      .tickFormat(d3.utcFormat("%Y-%m-%d")).tickSize(3.5).tickPadding(3));
  styleAxis(xAx);
  const yAx = g.append("g").attr("transform",`translate(${p.l},0)`)
    .call(d3.axisLeft(y).tickValues(p.bt).tickFormat(d3.format("d")).tickSize(3.5).tickPadding(2));
  styleAxis(yAx);
  const y2Ax = g.append("g").attr("transform",`translate(${p.r},0)`)
    .call(d3.axisRight(y2).tickValues(p.dt).tickFormat(d3.format(".1f")).tickSize(3.5).tickPadding(2));
  styleAxis(y2Ax);

  const cx = (p.l+p.r)/2, cy = (p.t+p.b)/2;
  g.append("text").attr("x",cx).attr("y",p.t-5).attr("text-anchor","middle")
    .style("font-size","13.4px").style("font-family",FONT).attr("fill","#111").text(titles[k]);
  g.append("text").attr("x",cx).attr("y",p.b+27).attr("text-anchor","middle")
    .style("font-size","10.5px").style("font-family",FONT).attr("fill","#222").text("Time (UTC)");
  g.append("text").attr("transform",`translate(${p.l-40},${cy}) rotate(-90)`).attr("text-anchor","middle")
    .attr("dy","0.35em").style("font-size","13px").style("font-family",FONT).attr("fill","#222").text("Back-azimuth (\u03B8\u00B0)");
  g.append("text").attr("transform",`translate(${p.r+31},${cy}) rotate(-90)`).attr("text-anchor","middle")
    .attr("dy","0.35em").style("font-size","13.5px").style("font-family",FONT).attr("fill","#222").text("Degree of Polarization");

  // legend
  const L = p.leg;
  g.append("rect").attr("x",L.x-7).attr("y",L.y-10).attr("width",p.r-L.x+3).attr("height",32)
    .attr("fill","#fff").attr("fill-opacity",0.8);
  g.append("line").attr("x1",L.x).attr("x2",L.x+21).attr("y1",L.y).attr("y2",L.y)
    .attr("stroke",LINE_COLOR).attr("stroke-width",1.3);
  g.append("text").attr("x",L.x+30).attr("y",L.y).attr("dy","0.35em")
    .style("font-size","10.6px").style("font-family",FONT).attr("fill","#222").text("Degree of Polarization");
  g.append("circle").attr("cx",L.x+11).attr("cy",L.y+14).attr("r",2.8)
    .attr("fill","#a2d13a").attr("stroke","#2e2e2e").attr("stroke-width",0.45);
  g.append("text").attr("x",L.x+30).attr("y",L.y+14).attr("dy","0.35em")
    .style("font-size","10.6px").style("font-family",FONT).attr("fill","#222").text("Back-azimuth (\u03B8\u00B0)");

  // colorbar
  const cbx = d3.scaleLinear().domain(p.cd).range([p.l, p.r]);
  g.append("rect").attr("x",p.l).attr("y",p.cbT).attr("width",p.r-p.l).attr("height",10)
    .attr("fill","url(#viridisGrad)").attr("stroke","#444").attr("stroke-width",0.8);
  const cbAx = g.append("g").attr("transform",`translate(0,${p.cbT+10})`)
    .call(d3.axisBottom(cbx).tickValues(p.pt).tickFormat(v => fmtMinus(p.pfmt(v))).tickSize(p.cbTick).tickPadding(p.cbPad));
  styleAxis(cbAx);
  g.append("text").attr("x",cx).attr("y",p.cbT+5).attr("dy","0.35em").attr("text-anchor","middle")
    .style("font-size","10.5px").style("font-family",FONT).attr("fill","#333").text("PSD (dB)");

  // panel letter
  g.append("rect").attr("x",p.letter[0]).attr("y",p.letter[1]).attr("width",30).attr("height",27)
    .attr("fill","#fff").attr("stroke","#999").attr("stroke-width",1);
  g.append("text").attr("x",p.letter[0]+15).attr("y",p.letter[1]+14).attr("dy","0.35em").attr("text-anchor","middle")
    .style("font-size","22px").style("font-family",FONT).attr("fill","#111").text(letters[k]);
});
</script>
</body></html>
